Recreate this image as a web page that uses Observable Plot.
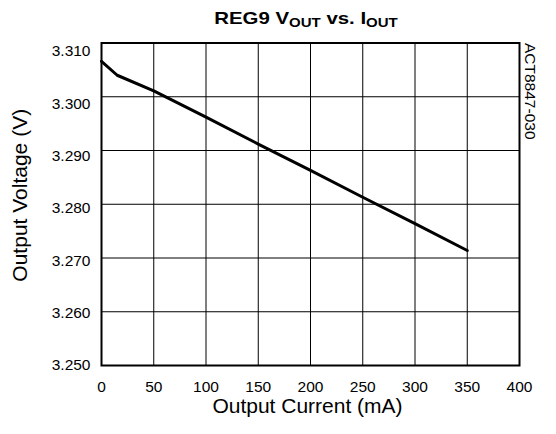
<!DOCTYPE html>
<html><head><meta charset="utf-8">
<script src="https://cdn.jsdelivr.net/npm/d3@7"></script>
<script src="https://cdn.jsdelivr.net/npm/@observablehq/plot@0.6"></script>
<style>
body{margin:0;background:#fff;font-family:"Liberation Sans",Arial,sans-serif;}
#title{position:relative;height:34px;width:556px;overflow:visible;}
#title span{position:absolute;left:0;width:612px;text-align:center;top:9px;line-height:20px;font-weight:bold;font-size:17px;color:#000;transform:scaleX(1.2);transform-origin:306px 50%;white-space:nowrap;}
#title sub{font-size:12.5px;vertical-align:-2.5px;line-height:0;}
</style>
</head><body>
<div id="title"><span>REG9 V<sub>OUT</sub> vs. I<sub>OUT</sub></span></div>
<div id="chart"></div>
<script>
const currents = [0, 15, 50, 100, 150, 200, 250, 300, 350];
const voltages = [3.3066, 3.3040, 3.3011, 3.2962, 3.2912, 3.2863, 3.2813, 3.2764, 3.2714];
const xTicks = [0, 50, 100, 150, 200, 250, 300, 350, 400];
const yTicks = [3.25, 3.26, 3.27, 3.28, 3.29, 3.30, 3.31];
const xLabel = "Output Current (mA)";
const yLabel = "Output Voltage (V)";
const docId = "ACT8847-030";

const data = currents.map((c, i) => ({c, v: voltages[i]}));
const fmt = d3.format(".3f");
// tick labels in the source sit on a slightly compressed spacing vs. the grid
const labelSpacing = 0.974;

const chart = Plot.plot({
  width: 556,
  height: 400,
  marginTop: 8.5,
  marginBottom: 69,
  marginLeft: 101,
  marginRight: 37,
  style: {fontFamily: '"Liberation Sans", Arial, sans-serif', fontSize: "15.5px", color: "#000", background: "#fff"},
  x: {domain: [0, 400], ticks: xTicks, tickSize: 0, tickPadding: 15, label: null},
  y: {domain: [3.25, 3.31], axis: null},
  marks: [
    Plot.gridX(xTicks, {stroke: "#000", strokeOpacity: 1, strokeWidth: 1}),
    Plot.gridY(yTicks, {stroke: "#000", strokeOpacity: 1, strokeWidth: 1}),
    Plot.text(yTicks, {y: d => yTicks[0] + (d - yTicks[0]) * labelSpacing, text: d => fmt(d), frameAnchor: "left", textAnchor: "end", dx: -11, fontSize: 15.5, fill: "#000"}),
    Plot.line(data, {x: "c", y: "v", stroke: "#000", strokeWidth: 3}),
    Plot.frame({stroke: "#000", strokeWidth: 2}),
    Plot.text([xLabel], {frameAnchor: "bottom", dx: -3, dy: 47, textAnchor: "middle", fontSize: 21, fill: "#000"}),
    Plot.text([yLabel], {frameAnchor: "left", dx: -81, dy: -9, rotate: -90, textAnchor: "middle", fontSize: 21, fill: "#000"}),
    Plot.text([docId], {frameAnchor: "top-right", dx: 17, rotate: 90, textAnchor: "start", fontSize: 15.5, fill: "#000"})
  ]
});
document.getElementById("chart").appendChild(chart);
</script>
</body></html>
